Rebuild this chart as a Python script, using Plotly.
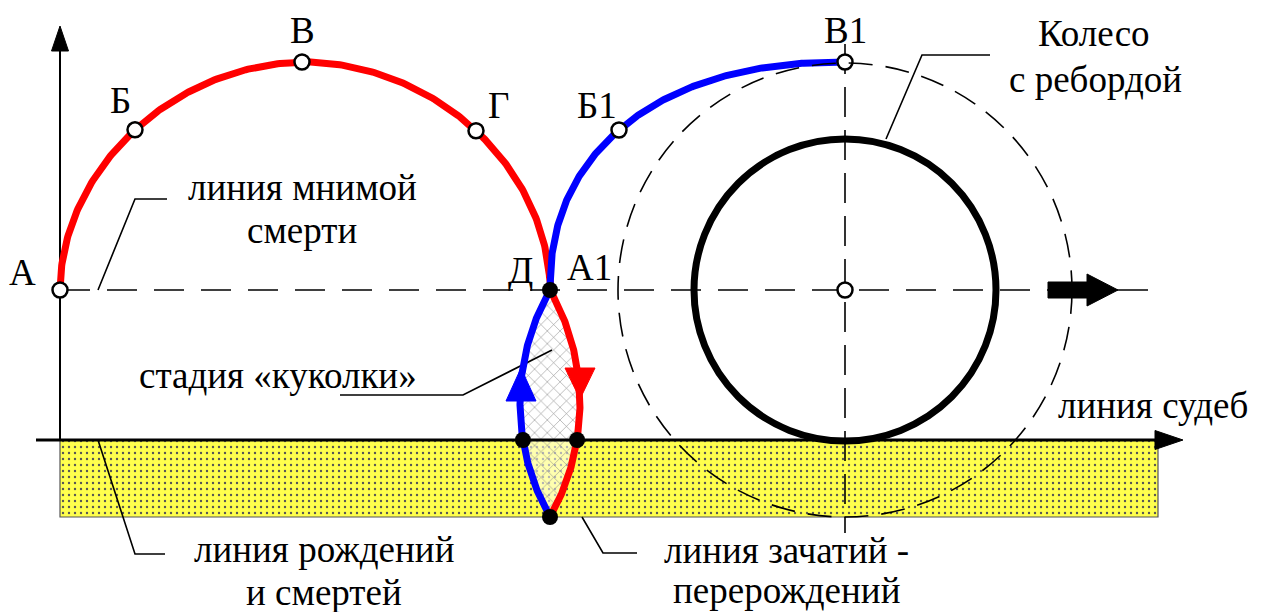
import numpy as np
import plotly.graph_objects as go

W, H = 1262, 612

# --- geometry of the scheme (pixels, y grows downwards) ---
AXIS_X = 60
FATE_Y = 440            # линия судеб / рождений и смертей
DEATH_Y = 290           # линия мнимой смерти
BAND_BOTTOM = 517
BAND_RIGHT = 1158

RED_CX, RED_RX, RED_RY, RED_N = 305, 245, 228, 1.93
BLUE_CX, BLUE_RX, BLUE_RY, BLUE_N = 845, 295, 228, 2.25
WHEEL_R = 151
RIM_R = 227
LENS_X, LENS_TOP, LENS_BOT, LENS_BULGE = 550, 290, 517, 30

# --- labelled points ---
red_pts = ["А", "Б", "В", "Г"]
red_pts_x = [60, 135, 302, 476]
blue_pts = ["Б1", "В1"]
blue_pts_x = [619, 845]

# --- text labels ---
labels = ["А", "Б", "В", "Г", "Д", "А1", "Б1", "В1",
          "Колесо", "с ребордой", "линия мнимой", "смерти",
          "стадия «куколки»", "линия судеб",
          "линия рождений", "и смертей", "линия зачатий -", "перерождений"]
labels_x = [22, 120, 302, 498, 520, 589, 597, 845,
            1094, 1095, 302, 302, 278, 1153, 324, 324, 786, 786]
labels_y = [272, 100, 30, 105, 270, 267, 105, 30,
            33, 79, 187, 230, 375, 405, 549, 592, 550, 590]

# --- leader lines (callouts) ---
leaders = [
    ([167, 135, 98], [199, 199, 290]),
    ([340, 463, 552], [395, 395, 350]),
    ([990, 922, 886], [55, 55, 139]),
    ([98, 135, 165], [440, 554, 554]),
    ([582, 603, 637], [517, 553, 553]),
]

FONT = dict(family="Liberation Serif, Times New Roman, serif", size=37, color="black")


def super_arc(cx, cy, rx, ry, n, t0, t1, num=300):
    t = np.linspace(t0, t1, num)
    c, s = np.cos(t), np.sin(t)
    xs = cx + rx * np.sign(c) * np.abs(c) ** (2 / n)
    ys = cy - ry * np.abs(s) ** (2 / n)
    return xs, ys


def super_y(cx, cy, rx, ry, n, x):
    u = np.abs((np.asarray(x, float) - cx) / rx)
    return cy - ry * np.clip(1 - u ** n, 0, None) ** (1 / n)


def lens_side(sign, num=200):
    half = (LENS_BOT - LENS_TOP) / 2
    ym = (LENS_TOP + LENS_BOT) / 2
    R = (half ** 2 + LENS_BULGE ** 2) / (2 * LENS_BULGE)
    cx = LENS_X + sign * (LENS_BULGE - R)
    ys = np.linspace(LENS_TOP, LENS_BOT, num)
    xs = cx + sign * np.sqrt(R ** 2 - (ys - ym) ** 2)
    return xs, ys


fig = go.Figure()

# yellow band under the line of fates
fig.add_trace(go.Scatter(
    x=[AXIS_X, BAND_RIGHT, BAND_RIGHT, AXIS_X, AXIS_X],
    y=[FATE_Y, FATE_Y, BAND_BOTTOM, BAND_BOTTOM, FATE_Y],
    mode="lines", fill="toself", line=dict(color="#555", width=1.2),
    fillpattern=dict(shape=".", size=6, solidity=0.12, fgcolor="#555",
                     bgcolor="#FFFF4D", fillmode="replace"),
    hoverinfo="skip"))

# hatched "pupa" lens
rx_l, ry_l = lens_side(+1)
bx_l, by_l = lens_side(-1)
fig.add_trace(go.Scatter(
    x=np.concatenate([rx_l, bx_l[::-1]]), y=np.concatenate([ry_l, by_l[::-1]]),
    mode="lines", fill="toself", line=dict(width=0),
    fillpattern=dict(shape="x", size=9, solidity=0.12, fgcolor="#8a8a8a",
                     bgcolor="rgba(255,255,255,0.55)", fillmode="replace"),
    hoverinfo="skip"))

# dashed lines
fig.add_trace(go.Scatter(x=[AXIS_X, 1048], y=[DEATH_Y, DEATH_Y], mode="lines",
                         line=dict(color="black", width=1.6, dash="30px,17px"), hoverinfo="skip"))
fig.add_trace(go.Scatter(x=[1087, 1148], y=[DEATH_Y, DEATH_Y], mode="lines",
                         line=dict(color="black", width=1.6), hoverinfo="skip"))
fig.add_trace(go.Scatter(x=[BLUE_CX, BLUE_CX], y=[44, 533], mode="lines",
                         line=dict(color="black", width=1.6, dash="30px,13px"), hoverinfo="skip"))

# axes
fig.add_trace(go.Scatter(x=[36, 1160], y=[FATE_Y, FATE_Y], mode="lines",
                         line=dict(color="black", width=3), hoverinfo="skip"))
fig.add_trace(go.Scatter(x=[1155, 1183, 1155, 1155], y=[FATE_Y - 9.5, FATE_Y, FATE_Y + 9.5, FATE_Y - 9.5],
                         mode="lines", fill="toself", fillcolor="black", line=dict(color="black", width=1),
                         hoverinfo="skip"))
fig.add_trace(go.Scatter(x=[AXIS_X, AXIS_X], y=[FATE_Y, 50], mode="lines",
                         line=dict(color="black", width=2), hoverinfo="skip"))
fig.add_trace(go.Scatter(x=[AXIS_X - 8.5, AXIS_X, AXIS_X + 8.5, AXIS_X - 8.5], y=[51, 26, 51, 51],
                         mode="lines", fill="toself", fillcolor="black", line=dict(color="black", width=1),
                         hoverinfo="skip"))

# thick direction arrow on the death line
fig.add_trace(go.Scatter(x=[1048, 1087, 1087, 1118, 1087, 1087, 1048, 1048],
                         y=[282, 282, 274, DEATH_Y, 306, 298, 298, 282],
                         mode="lines", fill="toself", fillcolor="black", line=dict(color="black", width=1),
                         hoverinfo="skip"))

# leader lines
for lx, ly in leaders:
    fig.add_trace(go.Scatter(x=lx, y=ly, mode="lines", line=dict(color="black", width=1.6),
                             hoverinfo="skip"))

# red half-ellipse and red side of the lens
xr, yr = super_arc(RED_CX, DEATH_Y, RED_RX, RED_RY, RED_N, np.pi, 0)
fig.add_trace(go.Scatter(x=np.concatenate([xr, rx_l]), y=np.concatenate([yr, ry_l]), mode="lines",
                         line=dict(color="#FF0000", width=7), hoverinfo="skip"))

# blue side of the lens and blue quarter arc
xb, yb = super_arc(BLUE_CX, DEATH_Y, BLUE_RX, BLUE_RY, BLUE_N, np.pi, np.pi / 2)
fig.add_trace(go.Scatter(x=np.concatenate([bx_l[::-1], xb]), y=np.concatenate([by_l[::-1], yb]),
                         mode="lines", line=dict(color="#0000FF", width=7), hoverinfo="skip"))

# arrowheads on the lens
fig.add_trace(go.Scatter(x=[506, 521, 536, 506], y=[401, 368, 401, 401], mode="lines", fill="toself",
                         fillcolor="#0000FF", line=dict(color="#0000FF", width=1), hoverinfo="skip"))
fig.add_trace(go.Scatter(x=[565, 595, 580, 565], y=[368, 368, 399, 368], mode="lines", fill="toself",
                         fillcolor="#FF0000", line=dict(color="#FF0000", width=1), hoverinfo="skip"))

# filled black points (lens ends and crossings with the birth line)
dots_x = [LENS_X, LENS_X, float(np.interp(FATE_Y, by_l, bx_l)), float(np.interp(FATE_Y, ry_l, rx_l))]
dots_y = [LENS_TOP, LENS_BOT, FATE_Y, FATE_Y]
fig.add_trace(go.Scatter(x=dots_x, y=dots_y, mode="markers",
                         marker=dict(size=16, color="black"), hoverinfo="skip"))

# open points
op_x = red_pts_x + blue_pts_x + [BLUE_CX]
op_y = (list(super_y(RED_CX, DEATH_Y, RED_RX, RED_RY, RED_N, red_pts_x))
        + list(super_y(BLUE_CX, DEATH_Y, BLUE_RX, BLUE_RY, BLUE_N, blue_pts_x)) + [DEATH_Y])
fig.add_trace(go.Scatter(x=op_x, y=op_y, mode="markers",
                         marker=dict(size=15, color="white", line=dict(color="black", width=2.5)),
                         hoverinfo="skip"))

# wheel and its flange (dashed)
fig.add_shape(type="circle", xref="x", yref="y", layer="above",
              x0=BLUE_CX - RIM_R, x1=BLUE_CX + RIM_R, y0=DEATH_Y - RIM_R, y1=DEATH_Y + RIM_R,
              line=dict(color="black", width=1.6, dash="24px,13px"))
fig.add_shape(type="circle", xref="x", yref="y",
              x0=BLUE_CX - WHEEL_R, x1=BLUE_CX + WHEEL_R, y0=DEATH_Y - WHEEL_R, y1=DEATH_Y + WHEEL_R,
              line=dict(color="black", width=7))

for t, x, y in zip(labels, labels_x, labels_y):
    fig.add_annotation(x=x, y=y, text=t, showarrow=False, font=FONT,
                       xanchor="center", yanchor="middle")

fig.update_layout(
    width=W, height=H, margin=dict(l=0, r=0, t=0, b=0),
    paper_bgcolor="white", plot_bgcolor="white", showlegend=False,
    xaxis=dict(range=[0, W], visible=False, fixedrange=True),
    yaxis=dict(range=[H, 0], visible=False, fixedrange=True),
)

fig.write_html("out.html", config={"displayModeBar": False},
               post_script="document.body.style.margin='0';document.body.style.overflow='hidden';")
